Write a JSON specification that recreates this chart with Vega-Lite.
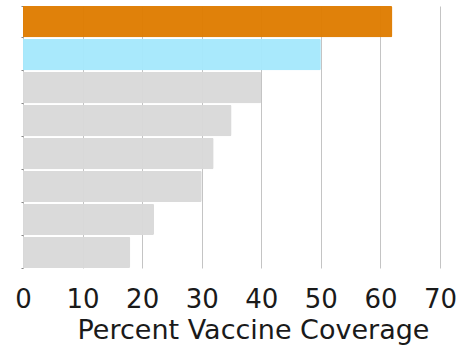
{
  "$schema": "https://vega.github.io/schema/vega-lite/v6.json",
  "width": 417,
  "height": 262,
  "autosize": {"type": "none"},
  "padding": {"left": 23, "top": 6, "right": 27, "bottom": 77},
  "background": "white",
  "config": {
    "view": {"stroke": null},
    "font": "DejaVu Sans"
  },
  "data": {
    "values": [
      {"group": "G1", "coverage": 62, "kind": "highlight"},
      {"group": "G2", "coverage": 50, "kind": "comparison"},
      {"group": "G3", "coverage": 40, "kind": "other"},
      {"group": "G4", "coverage": 35, "kind": "other"},
      {"group": "G5", "coverage": 32, "kind": "other"},
      {"group": "G6", "coverage": 30, "kind": "other"},
      {"group": "G7", "coverage": 22, "kind": "other"},
      {"group": "G8", "coverage": 18, "kind": "other"}
    ]
  },
  "mark": {"type": "bar", "cornerRadiusEnd": 1.5, "opacity": 0.96},
  "encoding": {
    "y": {
      "field": "group",
      "type": "nominal",
      "sort": null,
      "scale": {"paddingInner": 0.05, "paddingOuter": 0},
      "axis": {
        "title": null,
        "labels": false,
        "domain": false,
        "ticks": true,
        "tickSize": 2,
        "tickColor": "#888",
        "tickBand": "extent"
      }
    },
    "x": {
      "field": "coverage",
      "type": "quantitative",
      "scale": {"domain": [0, 70], "nice": false},
      "axis": {
        "title": "Percent Vaccine Coverage",
        "titleFontSize": 27,
        "titleFont": "DejaVu Sans",
        "titleFontWeight": "normal",
        "titleColor": "#1a1a1a",
        "titleBaseline": "alphabetic",
        "titleX": 230,
        "titleY": 70,
        "labelFontSize": 26,
        "labelFont": "DejaVu Sans",
        "labelColor": "#1a1a1a",
        "labelBaseline": "alphabetic",
        "labelPadding": 39,
        "labelFlush": false,
        "values": [0, 10, 20, 30, 40, 50, 60, 70],
        "domain": false,
        "ticks": false,
        "grid": true,
        "gridColor": "#c4c4c4",
        "gridWidth": 1
      }
    },
    "color": {
      "field": "kind",
      "type": "nominal",
      "scale": {
        "domain": ["highlight", "comparison", "other"],
        "range": ["#DF7C00", "#A6E8FC", "#D8D8D8"]
      },
      "legend": null
    }
  }
}
